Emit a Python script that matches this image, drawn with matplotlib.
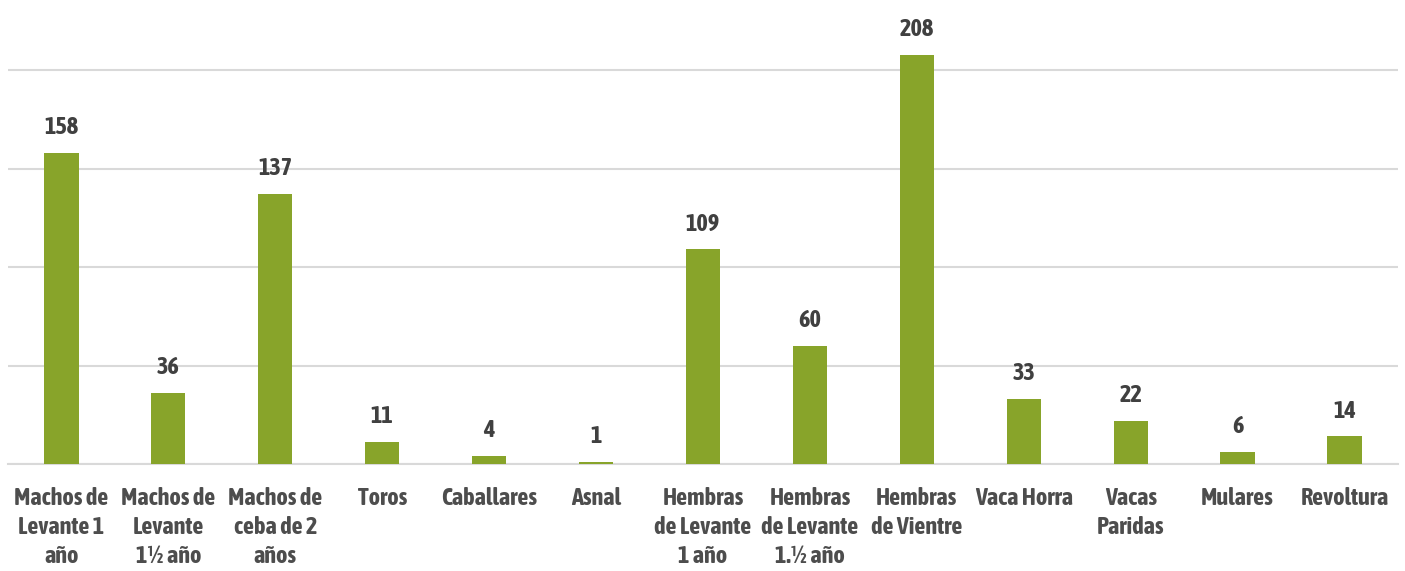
import matplotlib

matplotlib.use("Agg")
from matplotlib import font_manager
from matplotlib import pyplot as plt

CATEGORIES = [
    "Machos de\nLevante 1\naño",
    "Machos de\nLevante\n1½ año",
    "Machos de\nceba de 2\naños",
    "Toros",
    "Caballares",
    "Asnal",
    "Hembras\nde Levante\n1 año",
    "Hembras\nde Levante\n1.½ año",
    "Hembras\nde Vientre",
    "Vaca Horra",
    "Vacas\nParidas",
    "Mulares",
    "Revoltura",
]
VALUES = [158, 36, 137, 11, 4, 1, 109, 60, 208, 33, 22, 6, 14]

BAR_COLOR = "#88A42A"
LABEL_COLOR = "#4D4D4D"
VALUE_COLOR = "#404040"

# the original uses a condensed bold face; take a narrow one that has a bold cut
narrow_bold = sorted(
    {
        f.name
        for f in font_manager.fontManager.ttflist
        if ("narrow" in f.name.lower() or "condensed" in f.name.lower())
        and (f.weight in ("bold", "heavy", "black") or (isinstance(f.weight, int) and f.weight >= 600))
    }
)
if narrow_bold:
    FONT = [narrow_bold[0], "DejaVu Sans"]
    LABEL_SIZE, VALUE_SIZE = 17.5, 17.5
else:
    FONT = ["DejaVu Sans"]
    LABEL_SIZE, VALUE_SIZE = 11.5, 14

plt.rcParams["font.family"] = FONT

figure = plt.figure(figsize=(14.05, 5.71), dpi=100)
axis = figure.add_axes([0.0057, 0.1874, 0.9893, 0.7583])

positions = list(range(len(CATEGORIES)))
bars = axis.bar(positions, VALUES, width=0.32, color=BAR_COLOR, zorder=3)

axis.set_xlim(-0.5, len(CATEGORIES) - 0.5)
axis.set_ylim(0, 220)
axis.set_yticks([0, 50, 100, 150, 200])
axis.yaxis.grid(True, color="#D9D9D9", linewidth=1.5, zorder=0)
axis.tick_params(axis="y", left=False, labelleft=False)
axis.tick_params(axis="x", bottom=False, pad=13)
axis.set_xticks(positions)
axis.set_xticklabels(
    CATEGORIES,
    fontsize=LABEL_SIZE,
    fontweight="bold",
    color=LABEL_COLOR,
    linespacing=1.33,
    va="top",
)
for side in ("top", "left", "right"):
    axis.spines[side].set_visible(False)
axis.spines["bottom"].set_color("#D9D9D9")
axis.spines["bottom"].set_linewidth(1.5)

for bar, value in zip(bars, VALUES):
    axis.annotate(
        str(value),
        (bar.get_x() + bar.get_width() / 2, bar.get_height()),
        xytext=(0, 10),
        textcoords="offset points",
        ha="center",
        va="bottom",
        fontsize=VALUE_SIZE,
        fontweight="bold",
        color=VALUE_COLOR,
        annotation_clip=False,
    )

figure.savefig("out.png", dpi=100, facecolor="white")
plt.close(figure)
